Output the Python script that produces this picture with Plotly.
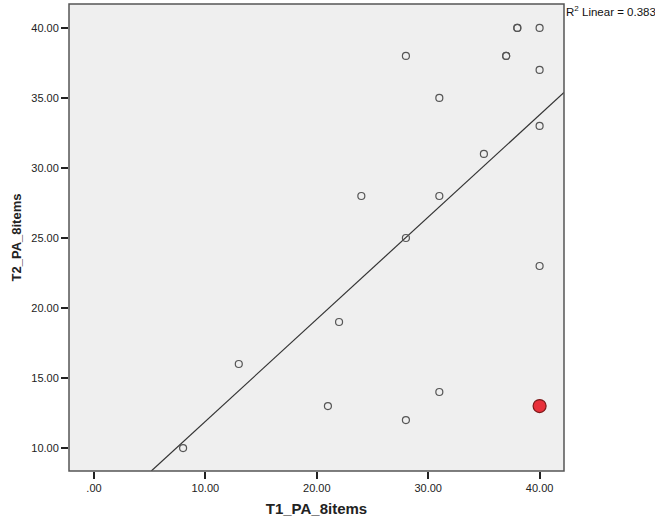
import numpy as np
import plotly.graph_objects as go

t1 = [8, 13, 21, 22, 24, 28, 28, 28, 31, 31, 31, 35, 37, 37, 38, 38, 40, 40, 40, 40]
t2 = [10, 16, 13, 19, 28, 38, 25, 12, 35, 28, 14, 31, 38, 38, 40, 40, 40, 37, 33, 23]
hl_x = [40]
hl_y = [13]
x_ticks = [0, 10, 20, 30, 40]
x_labels = [".00", "10.00", "20.00", "30.00", "40.00"]
y_ticks = [10, 15, 20, 25, 30, 35, 40]
y_labels = ["10.00", "15.00", "20.00", "25.00", "30.00", "35.00", "40.00"]

all_x = np.array(t1 + hl_x, dtype=float)
all_y = np.array(t2 + hl_y, dtype=float)
slope, intercept = np.polyfit(all_x, all_y, 1)
pred = slope * all_x + intercept
r2 = 1 - np.sum((all_y - pred) ** 2) / np.sum((all_y - all_y.mean()) ** 2)

xr = [-2.24, 42.19]
yr = [8.36, 41.71]
lx = np.array([(yr[0] - intercept) / slope, xr[1]])
ly = slope * lx + intercept

fig = go.Figure()
fig.add_trace(go.Scatter(x=lx, y=ly, mode="lines", line=dict(color="#333333", width=1.2),
                         hoverinfo="skip", showlegend=False))
fig.add_trace(go.Scatter(x=t1, y=t2, mode="markers",
                         marker=dict(size=7, color="rgba(0,0,0,0)", line=dict(color="#555555", width=1.2)),
                         showlegend=False))
fig.add_trace(go.Scatter(x=hl_x, y=hl_y, mode="markers",
                         marker=dict(size=13, color="#e8303a", line=dict(color="#7a1a1a", width=1.2)),
                         showlegend=False))

fig.add_shape(type="rect", xref="paper", yref="paper", x0=0, x1=1, y0=0, y1=1,
              line=dict(color="#555555", width=1.5), layer="above")

fig.add_annotation(xref="paper", yref="paper", x=1.0, y=0.984, xanchor="left", yanchor="middle",
                   text="R<sup>2</sup> Linear = %.3f" % r2, showarrow=False,
                   font=dict(family="Liberation Sans, Arial", size=11.5, color="#111111"))

fig.update_xaxes(range=xr, tickmode="array", tickvals=x_ticks, ticktext=x_labels,
                 ticks="outside", ticklen=7, tickcolor="#222222", tickwidth=1.5,
                 showgrid=False, zeroline=False, showline=False,
                 tickfont=dict(family="Liberation Sans, Arial", size=11, color="#222222"),
                 title=dict(text="<b>T1_PA_8items</b>", standoff=10,
                            font=dict(family="Liberation Sans, Arial", size=15, color="#222222")))
fig.update_yaxes(range=yr, tickmode="array", tickvals=y_ticks, ticktext=y_labels,
                 ticks="outside", ticklen=7, tickcolor="#222222", tickwidth=1.5,
                 showgrid=False, zeroline=False, showline=False,
                 tickfont=dict(family="Liberation Sans, Arial", size=11, color="#222222"),
                 title=dict(text="<b>T2_PA_8items</b>", standoff=6,
                            font=dict(family="Liberation Sans, Arial", size=13, color="#222222")))

fig.update_layout(width=655, height=522, paper_bgcolor="white", plot_bgcolor="#efefef",
                  margin=dict(l=69, r=91, t=4, b=51), showlegend=False)

fig.write_html("out.html")
